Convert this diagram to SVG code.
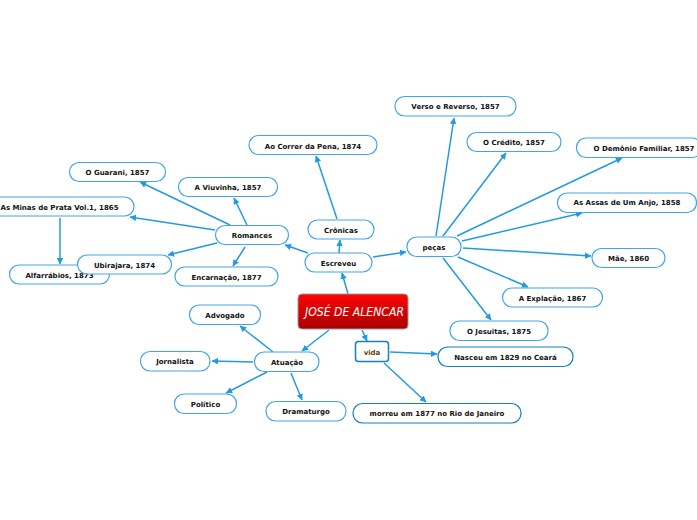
<svg xmlns="http://www.w3.org/2000/svg" width="697" height="520" viewBox="0 0 697 520">
<style>
text{font-family:"DejaVu Sans",sans-serif;font-weight:700;font-size:7px;fill:#111;text-anchor:middle}
.n{fill:#fff;stroke:#42a5ea;stroke-width:1.2}
.d{fill:#fff;stroke:#1480bd;stroke-width:1.2}
.c line{stroke:#229ae3;stroke-width:1.5;marker-end:url(#a)}
</style>
<defs>
<linearGradient id="g" x1="0" y1="0" x2="0" y2="1"><stop offset="0" stop-color="#ff0505"/><stop offset="1" stop-color="#a80000"/></linearGradient>
<marker id="a" viewBox="0 0 8 8" refX="7.5" refY="4" markerWidth="6.500" markerHeight="6.500" markerUnits="userSpaceOnUse" orient="auto"><path d="M0 0L8 4L0 8z" fill="#229ae3"/></marker>
</defs>
<g id="connectors" class="c">
<line x1="348" y1="294" x2="342" y2="273"/>
<line x1="329" y1="330" x2="302" y2="351"/>
<line x1="362" y1="330" x2="367" y2="341"/>
<line x1="339" y1="253" x2="340" y2="240"/>
<line x1="337" y1="219" x2="316" y2="156"/>
<line x1="308" y1="253" x2="285" y2="245"/>
<line x1="373" y1="257" x2="406" y2="252"/>
<line x1="230" y1="225" x2="140" y2="182"/>
<line x1="247" y1="225" x2="234" y2="198"/>
<line x1="215" y1="230" x2="130" y2="217"/>
<line x1="217" y1="243" x2="168" y2="255"/>
<line x1="245" y1="247" x2="233" y2="266"/>
<line x1="60" y1="218" x2="60" y2="264"/>
<line x1="436" y1="236" x2="454" y2="118"/>
<line x1="443" y1="236" x2="506" y2="153"/>
<line x1="457" y1="236" x2="622" y2="158"/>
<line x1="462" y1="241" x2="582" y2="213"/>
<line x1="463" y1="248" x2="591" y2="256"/>
<line x1="458" y1="257" x2="528" y2="287"/>
<line x1="443" y1="258" x2="491" y2="320"/>
<line x1="390" y1="352" x2="437" y2="354"/>
<line x1="384" y1="363" x2="426" y2="402"/>
<line x1="273" y1="352" x2="240" y2="326"/>
<line x1="253" y1="362" x2="212" y2="361"/>
<line x1="267" y1="372" x2="226" y2="393"/>
<line x1="291" y1="373" x2="302" y2="400"/>
</g>
<g id="root"><rect x="298" y="294" width="110" height="35" rx="4" fill="url(#g)" stroke="#999" stroke-width="1"/><text x="354.500" y="316" textLength="99" lengthAdjust="spacingAndGlyphs" style="font-family:'DejaVu Sans',sans-serif;font-style:italic;font-weight:400;font-size:13px;fill:#fff">JOSÉ DE ALENCAR</text></g>
<g id="guarani"><rect class="n" x="69.500" y="162.500" width="96" height="19" rx="9.500"/><text x="117.500" y="175">O Guarani, 1857</text></g>
<g id="viuvinha"><rect class="n" x="178.500" y="177.500" width="99" height="19" rx="9.500"/><text x="228" y="190">A Viuvinha, 1857</text></g>
<g id="minas"><rect class="n" x="-20" y="197" width="154" height="19" rx="9.500"/><text x="59.500" y="210">As Minas de Prata Vol.1, 1865</text></g>
<g id="romances"><rect class="n" x="215.500" y="225.500" width="73" height="19" rx="9.500"/><text x="252" y="238">Romances</text></g>
<g id="alfarrabios"><rect class="n" x="9.500" y="265" width="100" height="19" rx="9.500"/><text x="59.500" y="278">Alfarrábios, 1873</text></g>
<g id="ubirajara"><rect class="n" x="77.500" y="255" width="94" height="19" rx="9.500"/><text x="124.500" y="268">Ubirajara, 1874</text></g>
<g id="encarnacao"><rect class="n" x="175" y="267" width="103" height="19" rx="9.500"/><text x="226.500" y="280">Encarnação, 1877</text></g>
<g id="escreveu"><rect class="n" x="305" y="253" width="67" height="19" rx="9.500"/><text x="338.500" y="266">Escreveu</text></g>
<g id="cronicas"><rect class="n" x="308" y="220" width="66" height="19" rx="9.500"/><text x="341" y="233">Crônicas</text></g>
<g id="correr"><rect class="n" x="249" y="135.500" width="128" height="19" rx="9.500"/><text x="313" y="148.500">Ao Correr da Pena, 1874</text></g>
<g id="pecas"><rect class="n" x="407" y="237" width="54" height="19.500" rx="9.500"/><text x="434" y="250">peças</text></g>
<g id="verso"><rect class="n" x="395" y="96.500" width="121" height="19.500" rx="9.500"/><text x="455.500" y="109">Verso e Reverso, 1857</text></g>
<g id="credito"><rect class="n" x="467" y="132.500" width="94" height="19" rx="9.500"/><text x="514" y="145">O Crédito, 1857</text></g>
<g id="demonio"><rect class="n" x="576.500" y="138" width="125" height="19.500" rx="9.500"/><text x="644" y="151">O Demônio Familiar, 1857</text></g>
<g id="assas"><rect class="n" x="557.500" y="193" width="139" height="19.500" rx="9.500"/><text x="627" y="205">As Assas de Um Anjo, 1858</text></g>
<g id="mae"><rect class="n" x="592" y="248.500" width="73" height="19" rx="9.500"/><text x="628.500" y="261">Mãe, 1860</text></g>
<g id="expiacao"><rect class="n" x="502.500" y="288" width="100" height="19" rx="9.500"/><text x="552.500" y="300.500">A Explação, 1867</text></g>
<g id="jesuitas"><rect class="n" x="450" y="321" width="98" height="19.500" rx="9.500"/><text x="499" y="334">O Jesuitas, 1875</text></g>
<g id="vida"><rect x="355.500" y="341.500" width="33" height="20" rx="3" fill="#fff" stroke="#1480bd" stroke-width="1.500"/><text x="372" y="354.500" style="fill:#6a3d10">vida</text></g>
<g id="nasceu"><rect class="d" x="438" y="347" width="135" height="19.500" rx="9.500"/><text x="505.500" y="359.500">Nasceu em 1829 no Ceará</text></g>
<g id="morreu"><rect class="d" x="353" y="403.500" width="168" height="19.500" rx="9.500"/><text x="437" y="416">morreu em 1877 no Rio de Janeiro</text></g>
<g id="atuacao"><rect class="n" x="254.500" y="352" width="64.500" height="19.500" rx="9.500"/><text x="287" y="365">Atuação</text></g>
<g id="advogado"><rect class="n" x="189.500" y="305" width="71" height="19.500" rx="9.500"/><text x="225" y="318">Advogado</text></g>
<g id="jornalista"><rect class="n" x="140.500" y="351.500" width="69.500" height="19.500" rx="9.500"/><text x="175" y="364">Jornalista</text></g>
<g id="politico"><rect class="n" x="174.500" y="394" width="62" height="19.500" rx="9.500"/><text x="205.500" y="407">Político</text></g>
<g id="dramaturgo"><rect class="n" x="266" y="401.500" width="80" height="19.500" rx="9.500"/><text x="306" y="414">Dramaturgo</text></g>
</svg>
